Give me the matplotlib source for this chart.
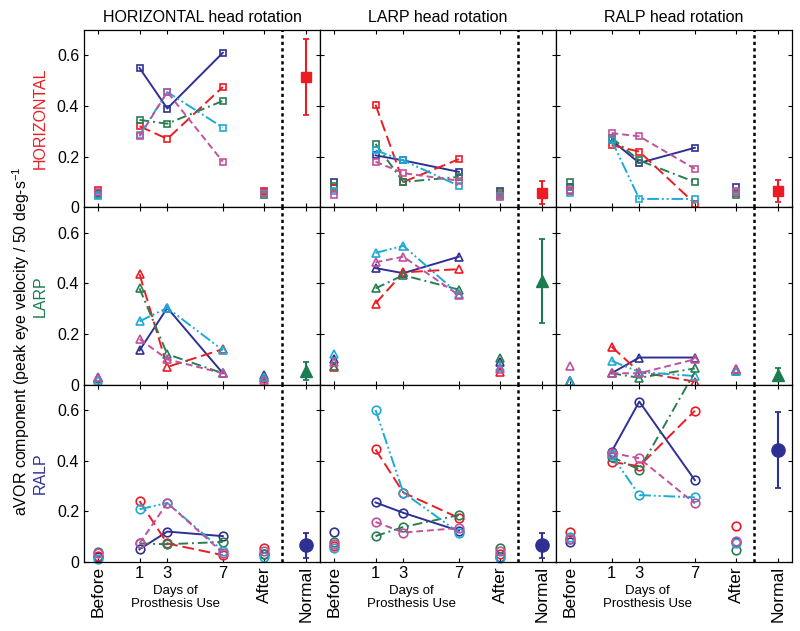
import numpy as np
import matplotlib
matplotlib.use("Agg")
import matplotlib.pyplot as plt
import matplotlib.transforms as mtransforms

plt.rcParams['font.family'] = ['Liberation Sans', 'DejaVu Sans']
plt.rcParams['mathtext.default'] = 'regular'

# x positions of the categories
days = [1, 3, 7]
x_before, x_after, x_normal = -2, 10, 13
x_split = 11.25

# subject order: blue, red, green, cyan, magenta
# row HORIZONTAL (component), columns HORIZONTAL / LARP / RALP head rotation
hh_days = [[0.55, 0.39, 0.61], [0.32, 0.27, 0.475], [0.345, 0.33, 0.42], [0.285, 0.455, 0.315], [0.28, 0.455, 0.18]]
hh_before = [0.055, 0.07, 0.05, 0.045, 0.06]
hh_after = [0.06, 0.065, 0.05, 0.055, 0.055]
hl_days = [[0.205, 0.185, 0.14], [0.405, 0.1, 0.19], [0.25, 0.1, 0.12], [0.225, 0.185, 0.085], [0.18, 0.135, 0.105]]
hl_before = [0.1, 0.075, 0.085, 0.065, 0.05]
hl_after = [0.065, 0.05, 0.055, 0.045, 0.04]
hr_days = [[0.265, 0.175, 0.235], [0.245, 0.22, 0.015], [0.275, 0.185, 0.1], [0.265, 0.033, 0.033], [0.293, 0.28, 0.152]]
hr_before = [0.08, 0.065, 0.1, 0.055, 0.07]
hr_after = [0.08, 0.055, 0.05, 0.06, 0.065]

# row LARP
lh_days = [[0.135, 0.303, 0.045], [0.436, 0.07, 0.14], [0.38, 0.12, 0.045], [0.25, 0.303, 0.136], [0.18, 0.1, 0.045]]
lh_before = [0.025, 0.025, 0.025, 0.02, 0.03]
lh_after = [0.04, 0.025, 0.03, 0.03, 0.02]
ll_days = [[0.46, 0.44, 0.505], [0.32, 0.443, 0.456], [0.38, 0.432, 0.375], [0.52, 0.548, 0.357], [0.483, 0.505, 0.353]]
ll_before = [0.1, 0.07, 0.075, 0.12, 0.09]
ll_after = [0.09, 0.05, 0.105, 0.07, 0.06]
lr_days = [[0.045, 0.107, 0.107], [0.15, 0.05, 0.012], [0.045, 0.027, 0.064], [0.094, 0.05, 0.034], [0.045, 0.045, 0.1]]
lr_before = [0.015, 0.015, 0.015, 0.015, 0.074]
lr_after = [0.062, 0.058, 0.055, 0.055, 0.06]

# row RALP
rh_days = [[0.05, 0.12, 0.102], [0.24, 0.073, 0.027], [0.073, 0.07, 0.079], [0.208, 0.233, 0.044], [0.073, 0.233, 0.036]]
rh_before = [0.02, 0.025, 0.04, 0.01, 0.035]
rh_after = [0.03, 0.055, 0.03, 0.02, 0.045]
rl_days = [[0.235, 0.194, 0.123], [0.444, 0.274, 0.174], [0.102, 0.138, 0.185], [0.6, 0.274, 0.116], [0.158, 0.116, 0.134]]
rl_before = [0.119, 0.062, 0.079, 0.055, 0.07]
rl_after = [0.02, 0.03, 0.055, 0.015, 0.045]
rr_days = [[0.435, 0.633, 0.323], [0.395, 0.378, 0.597], [0.415, 0.365, 0.75], [0.422, 0.264, 0.255], [0.431, 0.409, 0.231]]
rr_before = [0.08, 0.117, 0.09, 0.1, 0.09]
rr_after = [0.08, 0.141, 0.046, 0.075, 0.082]

# normal subjects: mean and error per (row, column)
normal_mean = [[0.516, 0.058, 0.064], [0.054, 0.41, 0.04], [0.066, 0.066, 0.442]]
normal_err = [[0.15, 0.045, 0.045], [0.035, 0.165, 0.025], [0.05, 0.05, 0.15]]

col_titles = ["HORIZONTAL head rotation", "LARP head rotation", "RALP head rotation"]
row_names = ["HORIZONTAL", "LARP", "RALP"]
row_colors = ["#ed1c24", "#1b7d4f", "#2e3192"]
row_markers = ["s", "^", "o"]

subj_colors = ["#2e3192", "#ed1c24", "#2a7d52", "#1eaad6", "#c0519e"]
subj_dashes = [None, (6, 2.5), (5, 2, 1, 2), (6, 1.5, 1, 1.5, 1, 1.5), (3.5, 2)]

panels = [
    [(hh_days, hh_before, hh_after), (hl_days, hl_before, hl_after), (hr_days, hr_before, hr_after)],
    [(lh_days, lh_before, lh_after), (ll_days, ll_before, ll_after), (lr_days, lr_before, lr_after)],
    [(rh_days, rh_before, rh_after), (rl_days, rl_before, rl_after), (rr_days, rr_before, rr_after)],
]

fig, axes = plt.subplots(3, 3, figsize=(8, 6.31), dpi=100)
fig.subplots_adjust(left=0.105, right=0.99, top=0.9525, bottom=0.1094, hspace=0, wspace=0)

mk_size = {"s": 4.8, "^": 6, "o": 6.2}
nm_size = {"s": 7, "^": 8.5, "o": 9.5}

for r in range(3):
    mk = row_markers[r]
    for c in range(3):
        ax = axes[r, c]
        d_vals, b_vals, a_vals = panels[r][c]
        for s in range(5):
            col = subj_colors[s]
            ln, = ax.plot(days, d_vals[s], color=col, lw=1.4, clip_on=False)
            if subj_dashes[s] is not None:
                ln.set_dashes(subj_dashes[s])
            ax.plot(days, d_vals[s], ls="none", marker=mk, ms=mk_size[mk],
                    mfc="none", mec=col, mew=1.2)
            ax.plot([x_before], [b_vals[s]], ls="none", marker=mk, ms=mk_size[mk],
                    mfc="none", mec=col, mew=1.2, clip_on=False)
            ax.plot([x_after], [a_vals[s]], ls="none", marker=mk, ms=mk_size[mk],
                    mfc="none", mec=col, mew=1.2, clip_on=False)
        ax.errorbar([x_normal], [normal_mean[r][c]], yerr=[normal_err[r][c]],
                    fmt=mk, color=row_colors[r], ms=nm_size[mk], lw=1.5,
                    capsize=2.5, capthick=1.3, clip_on=False)
        ax.axvline(x_split, color="k", lw=1.8, ls=(0, (1.3, 1.3)))

        ax.set_xlim(-3, 14)
        ax.set_ylim(0, 0.7)
        ax.set_yticks([0, 0.2, 0.4, 0.6])
        ax.tick_params(direction="in", top=True, right=True, length=3,
                       labelsize=11.5, width=0.8)
        ax.tick_params(axis="x", labelsize=12, pad=3)
        if c == 0:
            ax.set_yticklabels(["0", "0.2", "0.4", "0.6"])
        else:
            ax.set_yticklabels([])
        ax.set_xticks([x_before] + days + [x_after, x_normal])
        if r == 2:
            labels = ax.set_xticklabels(["Before", "1", "3", "7", "After", "Normal"])
            for lab in labels:
                if lab.get_text() in ("Before", "After", "Normal"):
                    lab.set_rotation(90)
                    lab.set_fontsize(12.5)
            trans = mtransforms.blended_transform_factory(ax.transData, ax.transAxes)
            ax.text(3.6, -0.13, "Days of\nProsthesis Use", transform=trans,
                    ha="center", va="top", fontsize=9.5, linespacing=1.15,
                    family=["Liberation Sans Narrow", "Liberation Sans"])
        else:
            ax.set_xticklabels([])
        for sp in ax.spines.values():
            sp.set_linewidth(0.9)
        if r == 0:
            ax.set_title(col_titles[c], fontsize=11.5, pad=6)

for r in range(3):
    pos = axes[r, 0].get_position()
    fig.text(0.05, (pos.y0 + pos.y1) / 2, row_names[r], color=row_colors[r],
             rotation=90, ha="center", va="center", fontsize=11.5)

fig.text(0.026, 0.46, "aVOR component (peak eye velocity / 50 deg-s$^{-1}$",
         rotation=90, ha="center", va="center", fontsize=11.5)

fig.savefig("out.png", dpi=100)
